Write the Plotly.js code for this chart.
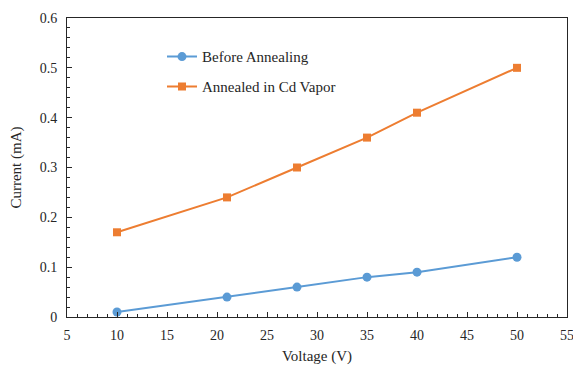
<!DOCTYPE html>
<html><head><meta charset="utf-8">
<script src="https://cdn.plot.ly/plotly-3.0.1.min.js"></script>
<style>html,body{margin:0;padding:0;background:#fff;}#chart{width:573px;height:365px;}</style>
</head><body><div id="chart"></div>
<script>
const voltage = [10, 21, 28, 35, 40, 50];
const beforeAnnealing = [0.01, 0.04, 0.06, 0.08, 0.09, 0.12];
const annealedCdVapor = [0.17, 0.24, 0.30, 0.36, 0.41, 0.50];
const seriesNames = ['Before Annealing', 'Annealed in Cd Vapor'];
const xTitle = 'Voltage (V)';
const yTitle = 'Current (mA)';

const fontFam = 'Liberation Serif';
const fsTick = 14;
const fsText = 15;
const traces = [
  {x: voltage, y: beforeAnnealing, name: seriesNames[0], mode: 'lines+markers', legend: 'legend',
   line: {color: '#5B9BD5', width: 2}, marker: {symbol: 'circle', size: 9, color: '#5B9BD5'}},
  {x: voltage, y: annealedCdVapor, name: seriesNames[1], mode: 'lines+markers', legend: 'legend2',
   line: {color: '#ED7D31', width: 2}, marker: {symbol: 'square', size: 8, color: '#ED7D31'}}
];
const axisCommon = {
  showline: true, mirror: true, linecolor: '#262626', linewidth: 1,
  showgrid: false, zeroline: false, ticks: 'inside', ticklen: 5, tickcolor: '#262626',
  tickfont: {family: fontFam, size: fsTick, color: '#262626'}
};
const layout = {
  width: 573, height: 365,
  margin: {l: 67, r: 6, t: 18, b: 48},
  paper_bgcolor: '#fff', plot_bgcolor: '#fff',
  font: {family: fontFam, size: fsText, color: '#262626'},
  xaxis: Object.assign({}, axisCommon, {
    range: [5, 55], dtick: 5, tick0: 5,
    minor: {ticks: 'inside', dtick: 1, ticklen: 3, tickcolor: '#262626', showgrid: false},
    ticklabelstandoff: 5, ticklabeloverflow: 'allow',
    title: {text: xTitle, font: {family: fontFam, size: fsText, color: '#262626'}, standoff: 10}
  }),
  yaxis: Object.assign({}, axisCommon, {
    range: [0, 0.6], dtick: 0.1, tick0: 0,
    minor: {ticks: 'inside', dtick: 0.02, ticklen: 3, tickcolor: '#262626', showgrid: false},
    ticklabelstandoff: 6,
    title: {text: yTitle, font: {family: fontFam, size: fsText, color: '#262626'}, standoff: 14}
  }),
  showlegend: true,
  legend: {x: 0.19, y: 0.87, xanchor: 'left', yanchor: 'middle', bgcolor: 'rgba(0,0,0,0)',
           font: {family: fontFam, size: fsText, color: '#262626'}},
  legend2: {x: 0.19, y: 0.77, xanchor: 'left', yanchor: 'middle', bgcolor: 'rgba(0,0,0,0)',
           font: {family: fontFam, size: fsText, color: '#262626'}}
};
Plotly.newPlot('chart', traces, layout, {displayModeBar: false, staticPlot: true});
</script></body></html>
